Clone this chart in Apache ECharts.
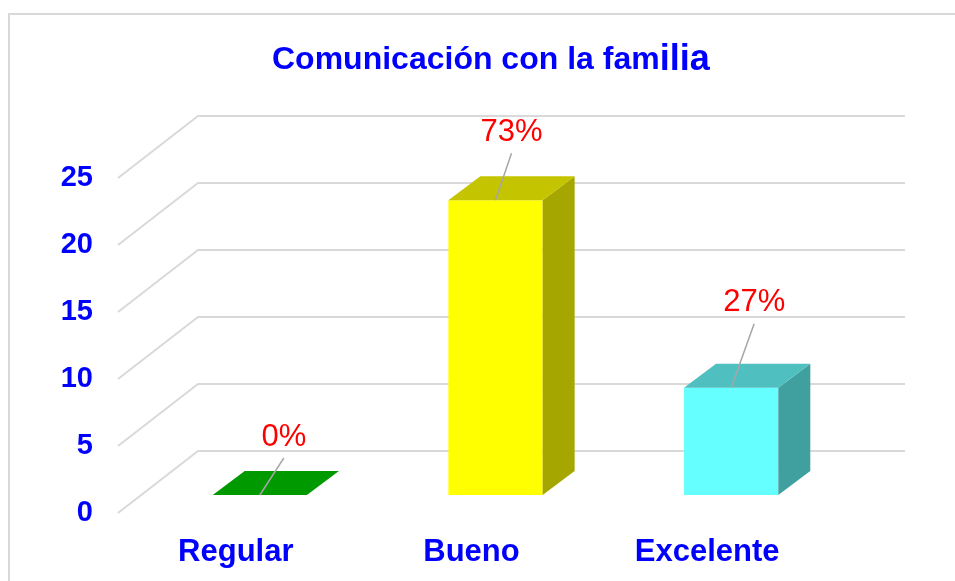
<!DOCTYPE html>
<html>
<head>
<meta charset="utf-8">
<script src="https://cdn.jsdelivr.net/npm/echarts@6/dist/echarts.min.js"></script>
<style>
  html, body { margin: 0; padding: 0; background: #fff; }
  #chart { width: 955px; height: 581px; }
</style>
</head>
<body>
<div id="chart"></div>
<script>
// datos
const categorias = ["Regular", "Bueno", "Excelente"];
const valores = [0, 22, 8];
const ticksY = [0, 5, 10, 15, 20, 25];

// colores de cada barra: frente, tapa, lado
const frente = ["#00b000", "#ffff00", "#66ffff"];
const tapa = ["#009900", "#c4c400", "#4fbfbf"];
const lado = ["#007700", "#a6a600", "#40a0a0"];

// profundidad del piso (oblicuo)
const DX = 80, DY = 62;
// posicion de la barra dentro de la profundidad
const OX = 24, OY = 18, BDX = 32, BDY = 24;
// desplazamiento de las etiquetas respecto al centro de la tapa
const labelOff = [[24, -58], [16, -68], [23, -85]];

const total = valores.reduce((a, b) => a + b, 0);
const chart = echarts.init(document.getElementById("chart"));

chart.setOption({
  animation: false,
  textStyle: { fontFamily: "Liberation Sans, Arial, sans-serif" },
  title: {
    text: "{a|Comunicación con la fam}{b|ilia}",
    left: 267,
    top: 37,
    textStyle: {
      rich: {
        a: { fontSize: 32, fontWeight: "bold", color: "#0000ff", fontFamily: "Liberation Sans" },
        b: { fontSize: 36, fontWeight: "bold", color: "#0000ff", fontFamily: "Liberation Sans" },
      },
    },
  },
  graphic: [
    {
      type: "rect",
      shape: { x: 9, y: 14, width: 990, height: 600 },
      style: { fill: "none", stroke: "#d9d9d9", lineWidth: 2 },
      silent: true,
    },
  ],
  grid: { left: 118, right: 130, top: 178, bottom: 68 },
  xAxis: {
    type: "category",
    data: categorias,
    axisLine: { show: false },
    axisTick: { show: false },
    axisLabel: {
      margin: 24,
      color: "#0000ff",
      fontSize: 31,
      fontWeight: "bold",
    },
    splitLine: { show: false },
  },
  yAxis: {
    type: "value",
    min: 0,
    max: 25,
    interval: 5,
    axisLine: { show: false },
    axisTick: { show: false },
    axisLabel: {
      margin: 25,
      color: "#0000ff",
      fontSize: 29,
      fontWeight: "bold",
    },
    splitLine: { show: false },
  },
  series: [
    {
      // paredes: lineas de la pared lateral y del fondo
      type: "custom",
      silent: true,
      z: 1,
      data: ticksY.map((v) => [0, v]),
      renderItem: function (params, api) {
        const cs = params.coordSys;
        const y = api.coord([0, api.value(1)])[1];
        return {
          type: "polyline",
          shape: {
            points: [
              [cs.x, y],
              [cs.x + DX, y - DY],
              [cs.x + cs.width + DX, y - DY],
            ],
          },
          style: { stroke: "#d9d9d9", lineWidth: 2, fill: "none" },
        };
      },
    },
    {
      // barras 3D
      type: "custom",
      z: 3,
      data: valores.map((v, i) => [i, v]),
      renderItem: function (params, api) {
        const i = api.value(0);
        const v = api.value(1);
        const base = api.coord([i, 0]);
        const top = api.coord([i, v]);
        const bw = api.size([1, 0])[0] * 0.4;
        const x0 = base[0] - bw / 2 + OX;
        const x1 = x0 + bw;
        const by = base[1] - OY;
        const ty = top[1] - OY;
        const cx = (x0 + x1) / 2;
        const off = labelOff[i];
        const pct = Math.round((v / total) * 100) + "%";
        return {
          type: "group",
          children: [
            {
              type: "rect",
              shape: { x: x0, y: ty, width: bw, height: by - ty },
              style: { fill: frente[i] },
            },
            {
              type: "polygon",
              shape: { points: [[x1, ty], [x1 + BDX, ty - BDY], [x1 + BDX, by - BDY], [x1, by]] },
              style: { fill: lado[i] },
            },
            {
              type: "polygon",
              shape: { points: [[x0, ty], [x1, ty], [x1 + BDX, ty - BDY], [x0 + BDX, ty - BDY]] },
              style: { fill: tapa[i] },
            },
            {
              type: "line",
              shape: { x1: cx, y1: ty, x2: cx + off[0], y2: ty + off[1] + 21 },
              style: { stroke: "#a6a6a6", lineWidth: 1.5 },
            },
            {
              type: "text",
              x: cx + off[0],
              y: ty + off[1],
              style: {
                text: pct,
                fill: "#ff0000",
                fontSize: 31,
                fontFamily: "Liberation Sans",
                align: "center",
                verticalAlign: "middle",
              },
            },
          ],
        };
      },
    },
  ],
});
</script>
</body>
</html>
